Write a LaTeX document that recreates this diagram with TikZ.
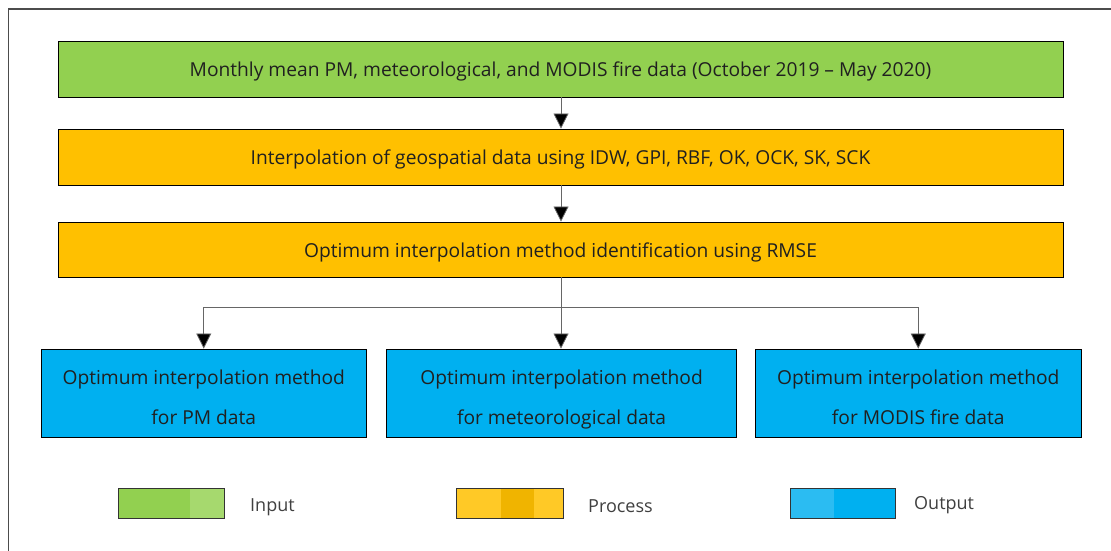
\documentclass[tikz,border=0pt]{standalone}
\usepackage{fontspec}
\setmainfont{Open Sans}
\usetikzlibrary{arrows.meta}
\definecolor{cgreen}{HTML}{92D050}
\definecolor{cgreenl}{HTML}{A6D96E}
\definecolor{corange}{HTML}{FFC000}
\definecolor{cyell}{HTML}{FFC926}
\definecolor{cyelld}{HTML}{F0B400}
\definecolor{cblue}{HTML}{00B0F0}
\definecolor{cbluel}{HTML}{2BBCF2}
\definecolor{ctext}{HTML}{202020}
\definecolor{cleg}{HTML}{404040}
\newcommand{\mystrut}{\vphantom{Agp}}
\newcommand{\onestrut}{\rule[-5pt]{0pt}{25pt}}
\newcommand{\topstrut}{\rule[-5pt]{0pt}{32pt}}
\begin{document}
\begin{tikzpicture}[x=1pt,y=-1pt,
  box/.style={draw=black,line width=0.9pt,inner sep=0pt,text=ctext,
    font=\fontsize{19.2}{40}\selectfont,align=center},
  conn/.style={draw=gray!80!black,line width=0.8pt},
  arr/.style={conn,-{Triangle[width=15pt,length=15pt,fill=black]}},
  legtext/.style={text=cleg,font=\fontsize{18}{20}\selectfont,anchor=west,inner sep=0pt}]
\useasboundingbox (0,0) rectangle (1111,551);
\fill[white] (0,0) rectangle (1111,551);
\draw[line width=1.5pt,black!70] (8.5,551) -- (8.5,9) -- (1111,9);
% main boxes
\node[box,fill=cgreen,minimum width=1005pt,minimum height=56pt] (in) at (560.5,69)
  {\onestrut Monthly mean PM, meteorological, and MODIS fire data (October 2019 -- May 2020)};
\node[box,fill=corange,minimum width=1005pt,minimum height=56pt] (interp) at (560.5,157)
  {\onestrut Interpolation of geospatial data using IDW, GPI, RBF, OK, OCK, SK, SCK};
\node[box,fill=corange,minimum width=1005pt,minimum height=55pt] (opt) at (560.5,249.5)
  {\onestrut Optimum interpolation method identification using RMSE};
\node[box,fill=cblue,minimum width=325.5pt,minimum height=88pt] (pm) at (203.75,393)
  {\topstrut Optimum interpolation method\\\mystrut for PM data};
\node[box,fill=cblue,minimum width=350pt,minimum height=88pt] (met) at (561.6,393)
  {\topstrut Optimum interpolation method\\\mystrut for meteorological data};
\node[box,fill=cblue,minimum width=326.5pt,minimum height=88pt] (fire) at (918.25,393)
  {\topstrut Optimum interpolation method\\\mystrut for MODIS fire data};
% connectors
\draw[arr] (in.south -| 561,0) -- (interp.north -| 561,0);
\draw[arr] (interp.south -| 561,0) -- (opt.north -| 561,0);
\coordinate (split) at (561,307.5);
\draw[arr] (opt.south -| 561,0) -- (met.north -| 561,0);
\draw[arr] (split) -| (pm.north);
\draw[arr] (split) -| (fire.north);
% legend
\fill[cgreen] (118,488) rectangle (190,518);
\fill[cgreenl] (190,488) rectangle (224,518);
\node[draw=black!80,line width=0.9pt,minimum width=106pt,minimum height=30pt,inner sep=0pt] (lin) at (171,503) {};
\node[legtext] (tin) at (250,507) {Input};
\fill[cyell] (456,488) rectangle (563,518);
\fill[cyelld] (501,488) rectangle (534,518);
\node[draw=black!80,line width=0.9pt,minimum width=107pt,minimum height=30pt,inner sep=0pt] (lpr) at (509.5,503) {};
\node[legtext] (tpr) at (588,506) {Process};
\fill[cbluel] (790,488) rectangle (834,518);
\fill[cblue] (834,488) rectangle (895,518);
\node[draw=black!80,line width=0.9pt,minimum width=105pt,minimum height=30pt,inner sep=0pt] (lout) at (842.5,503) {};
\node[legtext] (tout) at (914,505) {Output};
\end{tikzpicture}
\end{document}
